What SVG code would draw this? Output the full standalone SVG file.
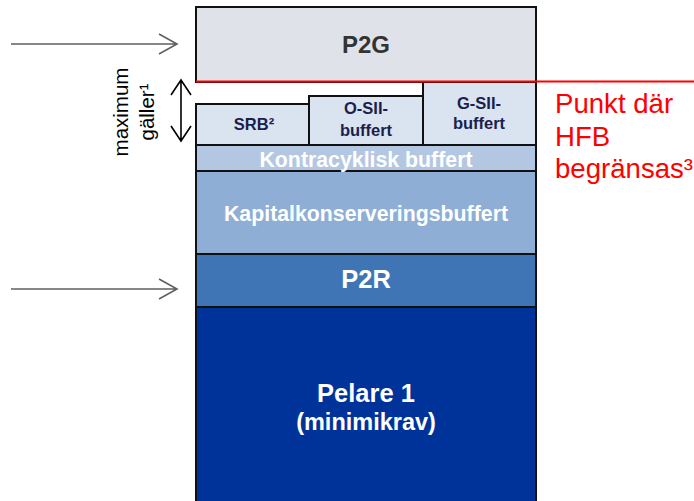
<svg xmlns="http://www.w3.org/2000/svg" width="694" height="501" viewBox="0 0 694 501">
<style>
.box{stroke:#111;stroke-width:2}
.b{font-family:"Liberation Sans",Arial,sans-serif;font-weight:bold;text-anchor:middle}
.w{fill:#fff}
.n{fill:#1a1f4d;font-size:16.5px}
.arr{stroke:#606060;stroke-width:1.6;fill:none}
.dbl{stroke:#000;stroke-width:1.6;fill:none}
</style>
<rect width="694" height="501" fill="#fff"/>
<g id="pelare1"><rect class="box" x="196" y="307" width="340" height="200" fill="#003399"/>
<text class="b w" x="366" y="402" font-size="25.5">Pelare 1</text>
<text class="b w" x="366" y="430" font-size="23.5">(minimikrav)</text></g>
<g id="p2r"><rect class="box" x="196" y="254" width="340" height="53" fill="#3f75b5"/>
<text class="b w" x="366" y="288" font-size="25.5">P2R</text></g>
<g id="kapital"><rect class="box" x="196" y="171" width="340" height="83" fill="#8eaed6"/>
<text class="b w" x="366" y="221" font-size="21.3">Kapitalkonserveringsbuffert</text></g>
<g id="kontra"><rect class="box" x="196" y="145" width="340" height="26" fill="#b4c7e2"/>
<text class="b w" x="366" y="167" font-size="21.3">Kontracyklisk buffert</text></g>
<g id="srb"><rect class="box" x="196" y="104" width="113" height="41" fill="#dae3f0"/>
<text class="b n" x="254" y="130">SRB²</text></g>
<g id="osii"><rect class="box" x="309" y="96" width="114" height="49" fill="#dae3f0"/>
<text class="b n" x="366" y="114">O-SII-</text><text class="b n" x="366" y="136">buffert</text></g>
<g id="gsii"><rect class="box" x="423" y="82" width="113" height="63" fill="#dae3f0"/>
<text class="b n" x="479" y="109">G-SII-</text><text class="b n" x="479" y="129">buffert</text></g>
<g id="p2g"><rect class="box" x="196" y="7" width="340" height="75" fill="#dfe3e9"/>
<text class="b" x="366" y="53" font-size="24" fill="#333">P2G</text></g>
<g id="hfb"><line x1="196" y1="81.5" x2="694" y2="81.5" stroke="#ff0000" stroke-width="2"/>
<text font-family="Liberation Sans,Arial,sans-serif" font-size="27.6" fill="#ff0000"><tspan x="555" y="113">Punkt där</tspan><tspan x="555" y="146">HFB</tspan><tspan x="555" y="178">begränsas³</tspan></text></g>
<g id="maximum"><text font-family="Liberation Sans,Arial,sans-serif" font-size="20.5" fill="#000" text-anchor="middle" transform="translate(128,112) rotate(-90)"><tspan x="0" y="0">maximum</tspan><tspan x="0" y="26">gäller¹</tspan></text></g>
<g id="connectors">
<path class="arr" d="M11 44H177M159 34L177 44L159 54"/>
<path class="arr" d="M11 289H177M159 279L177 289L159 299"/>
<path class="dbl" d="M181 80V141M171 95L181 80L191 95M171 126L181 141L191 126"/>
</g>
</svg>
